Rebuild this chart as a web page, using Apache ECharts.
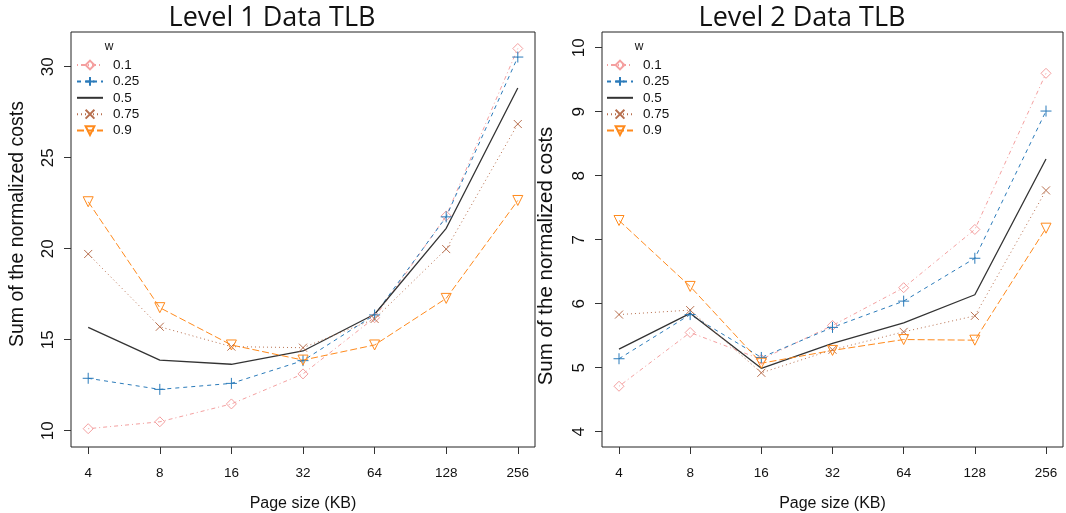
<!DOCTYPE html>
<html><head><meta charset="utf-8">
<script src="https://cdn.jsdelivr.net/npm/echarts@6/dist/echarts.min.js"></script>
<style>html,body{margin:0;padding:0;background:#fff}#c{width:1066px;height:513px}</style>
</head><body><div id="c"></div><script>
// ---- data ----
const pageSizes = ['4', '8', '16', '32', '64', '128', '256'];
const weights = ['0.1', '0.25', '0.5', '0.75', '0.9'];

// Level 1 Data TLB
const l1_w01  = [10.11, 10.49, 11.47, 13.12, 16.21, 21.80, 31.00];
const l1_w025 = [12.88, 12.27, 12.60, 13.85, 16.36, 21.75, 30.53];
const l1_w05  = [15.68, 13.88, 13.65, 14.38, 16.40, 21.12, 28.83];
const l1_w075 = [19.71, 15.71, 14.62, 14.56, 16.14, 19.98, 26.85];
const l1_w09  = [22.58, 16.76, 14.71, 13.88, 14.71, 17.27, 22.65];

// Level 2 Data TLB
const l2_w01  = [4.71, 5.55, 5.13, 5.66, 6.25, 7.16, 9.60];
const l2_w025 = [5.14, 5.83, 5.16, 5.63, 6.04, 6.71, 9.01];
const l2_w05  = [5.29, 5.85, 4.99, 5.38, 5.70, 6.14, 8.26];
const l2_w075 = [5.83, 5.90, 4.92, 5.28, 5.56, 5.81, 7.77];
const l2_w09  = [7.30, 6.27, 5.07, 5.27, 5.44, 5.43, 7.18];

// tick ranges (min, max, interval)
const l1YTicks = [10, 30, 5];
const l2YTicks = [4, 10, 1];

// ---- styles ----
const plusPath = 'path://M5,0L5,10M0,5L10,5';
const crossPath = 'path://M0,0L10,10M10,0L0,10';
const styles = [
  {color: '#F4A0A0', dash: [1, 3, 4, 3], symbol: 'diamond', size: 10, rotate: 0},
  {color: '#2B7BBA', dash: [4, 4], symbol: plusPath, size: 11, rotate: 0},
  {color: '#333333', dash: 'solid', symbol: 'none', size: 0, rotate: 0},
  {color: '#B8704F', dash: [1, 3], symbol: crossPath, size: 8, rotate: 0},
  {color: '#FF8A1C', dash: [7, 3], symbol: 'triangle', size: 10, rotate: 180}
];

// box = full plotting frame, inner = tick-range area (R style 4% extension)
const panels = [
  {vals: [l1_w01, l1_w025, l1_w05, l1_w075, l1_w09], yt: l1YTicks,
   box: {left: 71, top: 32, width: 464, height: 415},
   inner: {left: 88.2, top: 66.7, width: 429.6, height: 364},
   title: 'Level 1 Data TLB', titleX: 272, legendX: 76, wX: 109,
   yName: {x: 18, y: 224, size: 19.5}},
  {vals: [l2_w01, l2_w025, l2_w05, l2_w075, l2_w09], yt: l2YTicks,
   box: {left: 602, top: 32, width: 461, height: 415},
   inner: {left: 619, top: 47.7, width: 427, height: 384},
   title: 'Level 2 Data TLB', titleX: 802, legendX: 606, wX: 639,
   yName: {x: 546, y: 256, size: 20.5}}
];

const FONT = 'Liberation Sans';
const grids = [], xAxes = [], yAxes = [], series = [], titles = [], legends = [], graphics = [];
const xMax = pageSizes.length - 1;
const gridBase = {containLabel: false, outerBoundsMode: 'none'};

// outer box grids (0,1)
panels.forEach((p, k) => {
  grids.push(Object.assign({}, gridBase, {show: true, borderColor: '#222', borderWidth: 1, backgroundColor: 'transparent'}, p.box));
  xAxes.push({type: 'value', gridIndex: k, show: false, min: 0, max: 1});
  yAxes.push({type: 'value', gridIndex: k, show: false, min: 0, max: 1});
});

// inner data grids (2,3): y axis ticks/labels here, x axis hidden
panels.forEach((p, k) => {
  const gi = k + 2;
  grids.push(Object.assign({}, gridBase, {show: false}, p.inner));
  const yOff = p.inner.left - p.box.left;
  xAxes.push({type: 'value', gridIndex: gi, show: false, min: 0, max: xMax, interval: 1});
  yAxes.push({
    type: 'value', gridIndex: gi, min: p.yt[0], max: p.yt[1], interval: p.yt[2], offset: yOff,
    axisLine: {show: false, onZero: false}, splitLine: {show: false},
    axisTick: {show: true, length: 7, lineStyle: {color: '#333'}},
    axisLabel: {rotate: 90, margin: 14, fontFamily: FONT, fontSize: 17, color: '#111'}
  });
  graphics.push({type: 'text', x: p.yName.x, y: p.yName.y, rotation: Math.PI / 2,
    style: {text: 'Sum of the normalized costs', fontFamily: FONT, fontSize: p.yName.size,
      fill: '#111', align: 'center', verticalAlign: 'middle'}});
  titles.push({text: p.title, left: p.titleX, top: 5, padding: 0, textAlign: 'center',
    textStyle: {fontFamily: 'Open Sans', fontWeight: 'normal', fontSize: 27, color: '#111'}});
  titles.push({text: 'w', left: p.wX, top: 41, padding: 0, textAlign: 'center',
    textStyle: {fontFamily: FONT, fontWeight: 'normal', fontSize: 12, color: '#111'}});
  legends.push({
    orient: 'vertical', left: p.legendX, top: 58, padding: 0, itemWidth: 26, itemHeight: 11, itemGap: 2.4,
    data: weights, selectedMode: false,
    textStyle: {fontFamily: FONT, fontSize: 13.5, lineHeight: 13, color: '#111', padding: [0, 0, 0, 5]}
  });
  weights.forEach((w, i) => {
    const s = styles[i];
    const noSym = s.symbol === 'none';
    series.push({
      name: w, type: 'line', xAxisIndex: gi, yAxisIndex: gi, clip: false,
      data: p.vals[i].map((v, j) => [j, v]),
      symbol: s.symbol, symbolSize: s.size, symbolRotate: s.rotate, showSymbol: !noSym,
      lineStyle: {color: s.color, width: i === 2 ? 1.3 : 1, type: s.dash},
      itemStyle: noSym ? {color: 'rgba(0,0,0,0)', borderColor: 'rgba(0,0,0,0)', borderWidth: 0}
                       : {color: 'rgba(0,0,0,0)', borderColor: s.color, borderWidth: 1},
      emphasis: {disabled: true}, silent: true, z: 2
    });
  });
});

// x-axis tick grids (4,5): same horizontal extent as data, bottom at box bottom
panels.forEach((p, k) => {
  const gi = k + 4;
  grids.push(Object.assign({}, gridBase, {show: false, left: p.inner.left, width: p.inner.width, top: p.box.top, height: p.box.height}));
  yAxes.push({type: 'value', gridIndex: gi, show: false, min: 0, max: 1});
  xAxes.push({
    type: 'value', gridIndex: gi, min: 0, max: xMax, interval: 1, position: 'bottom',
    axisLine: {show: false, onZero: false}, splitLine: {show: false},
    axisTick: {show: true, length: 7, lineStyle: {color: '#333'}},
    axisLabel: {margin: 19, fontFamily: FONT, fontSize: 13.5, color: '#111',
      formatter: v => pageSizes[Math.round(v)]},
    name: 'Page size (KB)', nameLocation: 'middle', nameGap: 49,
    nameTextStyle: {fontFamily: FONT, fontSize: 16, color: '#111'}
  });
});

const chart = echarts.init(document.getElementById('c'), null, {renderer: 'canvas'});
chart.setOption({
  animation: false, backgroundColor: '#fff',
  title: titles, legend: legends, grid: grids, xAxis: xAxes, yAxis: yAxes, series: series,
  graphic: graphics
});
</script></body></html>
